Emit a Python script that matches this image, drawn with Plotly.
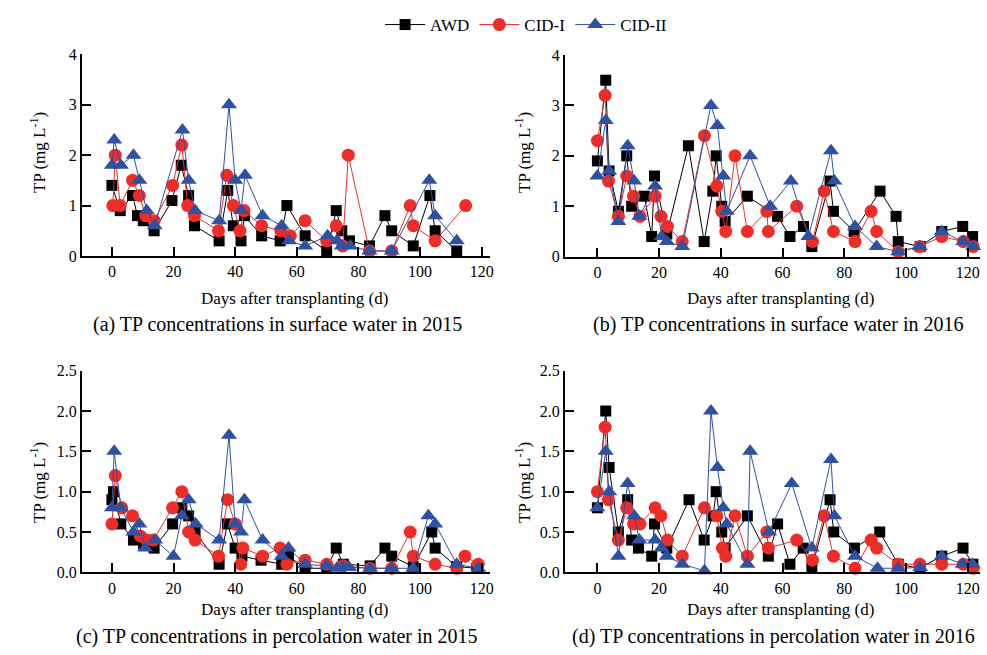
import plotly.graph_objects as go

# ---------------- data ----------------
# (a) surface water 2015
a_awd_d = [0, 2.7, 6.7, 8.3, 10.2, 13.7, 19.5, 22.5, 24.9, 26.8, 34.8, 37.6, 39.4, 41.9, 43, 48.6, 54.6, 56.8, 62.7, 69.7, 72.8, 74.6, 77.1, 83.6, 88.6, 90.8, 97.8, 103.2, 104.9, 111.9]
a_awd_v = [1.4, 0.9, 1.2, 0.8, 0.7, 0.5, 1.1, 1.8, 1.2, 0.6, 0.3, 1.3, 0.6, 0.3, 0.8, 0.4, 0.3, 1.0, 0.4, 0.1, 0.9, 0.5, 0.3, 0.2, 0.8, 0.5, 0.2, 1.2, 0.5, 0.1]
a_c1_d = [0.3, 1.1, 2.7, 6.7, 8.9, 11, 13.7, 19.7, 22.7, 24.6, 26.8, 34.6, 37.3, 39.4, 41.6, 42.9, 48.6, 54.8, 57.9, 62.7, 69.7, 72.8, 74.9, 76.7, 83.6, 90.8, 96.8, 97.8, 104.9, 114.8]
a_c1_v = [1.0, 2.0, 1.0, 1.5, 1.2, 0.8, 0.7, 1.4, 2.2, 1.0, 0.8, 0.5, 1.6, 1.0, 0.5, 0.9, 0.6, 0.5, 0.4, 0.7, 0.3, 0.6, 0.2, 2.0, 0.1, 0.1, 1.0, 0.6, 0.3, 1.0]
a_c2_d = [0, 0.75, 2.9, 7.0, 8.9, 11.3, 13.9, 22.9, 24.9, 27, 34.8, 38, 40, 41.9, 43.2, 48.9, 55.1, 57.5, 62.7, 70, 73, 74.6, 77.3, 83.6, 90.8, 103, 104.9, 111.9]
a_c2_v = [1.8, 2.3, 1.8, 2.0, 1.5, 0.9, 0.6, 2.5, 1.5, 0.9, 0.7, 3.0, 1.5, 0.9, 1.6, 0.8, 0.6, 0.3, 0.2, 0.4, 0.3, 0.2, 0.2, 0.1, 0.1, 1.5, 0.8, 0.3]

# (b) surface water 2016
b_awd_d = [0, 2.7, 3.8, 6.8, 9.5, 11.1, 15.2, 17.6, 18.5, 22.5, 29.5, 34.6, 37.4, 38.5, 40.3, 41.4, 48.6, 58.4, 62.4, 66.8, 69.5, 75.4, 76.5, 83.2, 91.6, 96.8, 97.5, 104.6, 111.6, 118.4, 121.6]
b_awd_v = [1.9, 3.5, 1.7, 0.9, 2.0, 1.0, 1.2, 0.4, 1.6, 0.45, 2.2, 0.3, 1.3, 2.0, 1.0, 0.7, 1.2, 0.8, 0.4, 0.6, 0.2, 1.5, 0.9, 0.5, 1.3, 0.8, 0.3, 0.2, 0.5, 0.6, 0.4]
b_c1_d = [0, 2.5, 3.6, 6.8, 9.5, 11.7, 13.8, 18.7, 20.6, 22.7, 27.5, 34.7, 38.7, 40.3, 41.6, 44.6, 48.6, 54.9, 55.4, 64.6, 69.7, 73.5, 76.5, 83.5, 88.7, 90.5, 97.5, 104.5, 111.6, 118.6, 121.8]
b_c1_v = [2.3, 3.2, 1.5, 0.8, 1.6, 1.2, 0.8, 1.2, 0.8, 0.6, 0.3, 2.4, 1.4, 0.9, 0.5, 2.0, 0.5, 0.9, 0.5, 1.0, 0.3, 1.3, 0.5, 0.3, 0.9, 0.5, 0.1, 0.2, 0.4, 0.3, 0.2]
b_c2_d = [0, 2.7, 3.8, 6.8, 9.8, 11.9, 13.6, 18.7, 20.8, 22.5, 27.5, 36.8, 38.9, 40.8, 41.9, 49.5, 56, 62.7, 68.4, 75.7, 76.8, 83.5, 90.5, 97.5, 104.5, 111.6, 118.6, 121.8]
b_c2_v = [1.6, 2.7, 1.7, 0.7, 2.2, 1.5, 0.8, 1.4, 0.4, 0.3, 0.2, 3.0, 2.6, 1.6, 0.9, 2.0, 1.0, 1.5, 0.4, 2.1, 1.5, 0.6, 0.2, 0.1, 0.2, 0.5, 0.3, 0.2]

# (c) percolation water 2015
c_awd_d = [0, 0.5, 2.9, 7, 10.3, 13.7, 19.7, 22.7, 24.9, 27, 34.8, 37.5, 40, 42.2, 48.4, 55.1, 57.3, 62.7, 69.7, 72.8, 75.1, 83.8, 88.6, 90.8, 97.8, 103.8, 104.9, 111.9, 118.4]
c_awd_v = [0.9, 1.0, 0.6, 0.4, 0.35, 0.3, 0.6, 0.8, 0.7, 0.5, 0.1, 0.6, 0.3, 0.2, 0.15, 0.1, 0.2, 0.05, 0.05, 0.3, 0.1, 0.08, 0.3, 0.2, 0.07, 0.5, 0.3, 0.07, 0.05]
c_c1_d = [0, 1.1, 3.2, 6.7, 9.2, 11.3, 13.5, 19.7, 22.7, 24.9, 27, 34.6, 37.5, 40, 41.8, 42.5, 48.9, 54.6, 56.8, 62.7, 69.7, 75, 83.8, 90.8, 96.8, 97.8, 104.9, 111.9, 114.6, 118.9]
c_c1_v = [0.6, 1.2, 0.8, 0.7, 0.45, 0.4, 0.4, 0.8, 1.0, 0.5, 0.4, 0.2, 0.9, 0.6, 0.1, 0.3, 0.2, 0.3, 0.1, 0.15, 0.1, 0.08, 0.05, 0.05, 0.5, 0.2, 0.1, 0.05, 0.2, 0.1]
c_c2_d = [0, 0.75, 2.9, 7, 8.9, 10.8, 14, 20, 22.7, 24.9, 27.2, 34.8, 38, 40, 41.9, 43, 48.9, 55.1, 57.3, 62.7, 69.7, 73, 75, 77, 83.8, 90.8, 97.8, 102.7, 104.9, 111.9, 118.9]
c_c2_v = [0.8, 1.5, 0.8, 0.5, 0.6, 0.3, 0.4, 0.2, 0.7, 0.9, 0.6, 0.4, 1.7, 0.6, 0.5, 0.9, 0.4, 0.2, 0.3, 0.1, 0.08, 0.05, 0.07, 0.06, 0.05, 0.05, 0.05, 0.7, 0.6, 0.1, 0.05]

# (d) percolation water 2016
d_awd_d = [0, 2.7, 3.8, 6.8, 9.8, 11.1, 13.3, 17.6, 18.5, 22.5, 29.7, 34.6, 37.5, 38.5, 40.3, 41.4, 48.6, 55.4, 58.4, 62.4, 66.7, 69.5, 75.4, 76.6, 83.3, 91.5, 97.5, 104.6, 111.6, 118.5, 121.7]
d_awd_v = [0.8, 2.0, 1.3, 0.5, 0.9, 0.4, 0.3, 0.2, 0.6, 0.3, 0.9, 0.4, 0.7, 1.0, 0.5, 0.3, 0.7, 0.2, 0.6, 0.1, 0.3, 0.05, 0.9, 0.5, 0.3, 0.5, 0.1, 0.05, 0.2, 0.3, 0.1]
d_c1_d = [0, 2.5, 3.6, 6.8, 9.5, 11.7, 13.8, 18.7, 20.6, 22.7, 27.5, 34.7, 38.7, 40.5, 41.6, 44.6, 48.6, 54.9, 55.4, 64.6, 69.7, 73.5, 76.5, 83.5, 88.7, 90.5, 97.5, 104.5, 111.6, 118.6, 121.8]
d_c1_v = [1.0, 1.8, 0.9, 0.4, 0.8, 0.6, 0.6, 0.8, 0.7, 0.4, 0.2, 0.8, 0.7, 0.3, 0.2, 0.7, 0.2, 0.5, 0.3, 0.4, 0.15, 0.7, 0.2, 0.05, 0.4, 0.3, 0.1, 0.1, 0.1, 0.1, 0.05]
d_c2_d = [0, 2.7, 3.8, 6.8, 9.8, 11.9, 13.6, 18.7, 20.8, 22.5, 27.5, 34.7, 36.8, 38.9, 40.8, 41.9, 48.6, 49.5, 55.6, 63, 69.5, 75.7, 76.8, 83.5, 90.8, 97.5, 104.6, 111.6, 118.4, 121.6]
d_c2_v = [0.8, 1.5, 1.0, 0.2, 1.1, 0.7, 0.4, 0.4, 0.3, 0.2, 0.1, 0.02, 2.0, 1.3, 0.8, 0.6, 0.1, 1.5, 0.5, 1.1, 0.3, 1.4, 0.7, 0.2, 0.05, 0.05, 0.06, 0.2, 0.1, 0.1]

series_names = ["AWD", "CID-I", "CID-II"]
captions = ["(a) TP concentrations in surface water in 2015",
            "(b) TP concentrations in surface water in 2016",
            "(c) TP concentrations in percolation water in 2015",
            "(d) TP concentrations in percolation water in 2016"]
x_title = "Days after transplanting (d)"
y_title = "TP (mg L<sup>-1</sup>)"
x_ticks = [0, 20, 40, 60, 80, 100, 120]

panels = [
    [(a_awd_d, a_awd_v), (a_c1_d, a_c1_v), (a_c2_d, a_c2_v)],
    [(b_awd_d, b_awd_v), (b_c1_d, b_c1_v), (b_c2_d, b_c2_v)],
    [(c_awd_d, c_awd_v), (c_c1_d, c_c1_v), (c_c2_d, c_c2_v)],
    [(d_awd_d, d_awd_v), (d_c1_d, d_c1_v), (d_c2_d, d_c2_v)],
]

# ---------------- styling ----------------
W, H = 987, 655
FONT = "Liberation Serif, Times New Roman, serif"
colors = ["#000000", "#EE2C28", "#2E51A2"]
symbols = ["square", "circle", "triangle-up"]
msizes = [11, 13, 14]

# pixel boxes: (left, right, top, bottom)
boxes = [(82, 490, 54.3, 256), (565, 980, 55, 256.7),
         (82, 490, 370.7, 572.3), (565, 980, 370.7, 572.3)]
xranges = [[-9.7, 122.7], [-10.5, 124], [-9.7, 122.7], [-10.5, 124]]
yranges = [[0, 4], [0, 4], [0, 2.5], [0, 2.5]]
ydtick = [1, 1, 0.5, 0.5]
yfmt = ["d", "d", ".1f", ".1f"]

fig = go.Figure()
for p, panel in enumerate(panels):
    sfx = "" if p == 0 else str(p + 1)
    for s, (dd, vv) in enumerate(panel):
        fig.add_trace(go.Scatter(
            x=dd, y=vv, mode="lines+markers", name=series_names[s],
            xaxis="x" + sfx, yaxis="y" + sfx, showlegend=(p == 0),
            line=dict(color=colors[s], width=1),
            marker=dict(symbol=symbols[s], size=msizes[s], color=colors[s],
                        line=dict(width=0)),
            cliponaxis=False))

layout = dict(
    width=W, height=H, paper_bgcolor="white", plot_bgcolor="white",
    margin=dict(l=0, r=0, t=0, b=0, autoexpand=False),
    font=dict(family=FONT, size=16, color="black"),
    legend=dict(orientation="h", x=0.533, xanchor="center",
                xref="container", yref="container", y=1 - 7 / H, yanchor="top",
                font=dict(family=FONT, size=17, color="black"), itemwidth=40,
                tracegroupgap=0, bgcolor="rgba(0,0,0,0)"),
)
for p in range(4):
    l, r, t, b = boxes[p]
    sfx = "" if p == 0 else str(p + 1)
    layout["xaxis" + sfx] = dict(
        domain=[l / W, r / W], anchor="y" + sfx, range=xranges[p],
        tickvals=x_ticks, ticks="inside", ticklen=9, tickwidth=2, tickcolor="black",
        showline=True, linewidth=2, linecolor="black", showgrid=False, zeroline=False,
        tickfont=dict(family=FONT, size=16, color="black"))
    layout["yaxis" + sfx] = dict(
        domain=[1 - b / H, 1 - t / H], anchor="x" + sfx, range=yranges[p],
        dtick=ydtick[p], tick0=0, tickformat=yfmt[p], ticks="inside", ticklen=9,
        tickwidth=2, tickcolor="black", showline=True, linewidth=2, linecolor="black",
        showgrid=False, zeroline=False,
        tickfont=dict(family=FONT, size=16, color="black"))
fig.update_layout(**layout)

ann = []
xt_pos = [(294, 298), (780, 298), (294, 609), (780, 609)]
cap_pos = [(277, 324), (778, 324), (277, 636), (773, 636)]
yt_pos = [(38, 153), (523, 153), (38, 483), (523, 483)]
for p in range(4):
    ann.append(dict(text=x_title, x=xt_pos[p][0] / W, y=1 - xt_pos[p][1] / H,
                    xref="paper", yref="paper", showarrow=False,
                    xanchor="center", yanchor="middle", font=dict(size=17)))
    ann.append(dict(text=captions[p], x=cap_pos[p][0] / W, y=1 - cap_pos[p][1] / H,
                    xref="paper", yref="paper", showarrow=False,
                    xanchor="center", yanchor="middle", font=dict(size=20)))
    ann.append(dict(text=y_title, x=yt_pos[p][0] / W, y=1 - yt_pos[p][1] / H,
                    xref="paper", yref="paper", showarrow=False, textangle=-90,
                    xanchor="center", yanchor="middle", font=dict(size=17)))
fig.update_layout(annotations=ann)

fig.write_html("out.html", config={"displayModeBar": False},
               post_script="document.body.style.margin='0px';document.body.style.padding='0px';")
